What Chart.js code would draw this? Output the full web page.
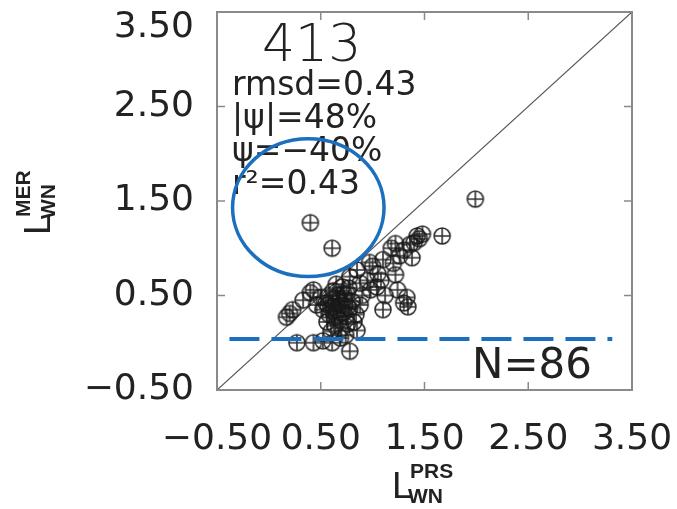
<!DOCTYPE html>
<html>
<head>
<meta charset="utf-8">
<script src="https://cdn.jsdelivr.net/npm/chart.js@4/dist/chart.umd.min.js"></script>
<style>
  html, body { margin: 0; padding: 0; background: #fff; }
  #wrap { width: 677px; height: 509px; }
</style>
</head>
<body>
<div id="wrap"><canvas id="scatterChart" width="677" height="509"></canvas></div>
<script>
// Tick values for both axes
const xTicks = [-0.5, 0.5, 1.5, 2.5, 3.5];
const yTicks = [-0.5, 0.5, 1.5, 2.5, 3.5];

// L_WN PRS (x) vs L_WN MER (y)
const prsValues = [
    1.99, 0.40, 0.61, 1.67, 1.40, 1.45, 1.48, 1.43, 1.36, 1.22,
    1.18, 1.30, 1.38, 1.10, 1.00, 0.97, 1.22, 1.05, 0.85, 0.68,
    0.78, 0.95, 0.88, 1.04, 1.24, 0.72, 1.33, 1.34, 1.30, 1.10,
    0.62, 0.76, 0.71, 0.65, 0.75, 0.43, 0.40, 0.33, 0.23, 0.17,
    0.20, 0.50, 0.55, 0.60, 0.62, 0.66, 0.70, 0.72, 0.58, 0.63,
    0.68, 0.74, 0.78, 0.80, 0.84, 0.88, 0.52, 0.46, 0.56, 0.64,
    0.70, 0.76, 0.82, 0.85, 0.60, 0.69, 0.74, 0.27, 0.43, 0.52,
    0.61, 0.78, 0.66, 0.73, 0.62, 0.90, 0.98, 1.12, 1.08, 0.57,
    0.66, 0.68, 0.77, 1.20, 1.26, 0.58
];
const merValues = [
    1.52, 1.27, 1.00, 1.13, 1.06, 1.10, 1.15, 1.13, 1.04, 1.05,
    1.00, 0.98, 0.90, 0.88, 0.81, 0.85, 0.72, 0.73, 0.77, 0.46,
    0.70, 0.66, 0.63, 0.59, 0.56, 0.52, 0.48, 0.38, 0.42, 0.35,
    0.33, 0.38, 0.59, 0.62, 0.52, 0.56, 0.53, 0.45, 0.35, 0.27,
    0.31, 0.48, 0.42, 0.45, 0.38, 0.35, 0.40, 0.32, 0.30, 0.27,
    0.24, 0.28, 0.36, 0.44, 0.30, 0.40, 0.35, 0.40, 0.22, 0.18,
    0.15, 0.20, 0.22, 0.13, 0.12, 0.05, 0.08, 0.00, 0.00, 0.02,
    0.00, -0.09, 0.50, 0.47, 0.55, 0.50, 0.56, 0.50, 0.66, 0.40,
    0.28, 0.43, 0.58, 0.84, 0.92, 0.50
];

// 1:1 line and the blue threshold line
const diagX = [-0.5, 3.5];
const diagY = [-0.5, 3.5];
const threshX = [-0.38, 3.31];
const threshY = [0.04, 0.04];

// Highlight ring (data units)
const ringCenter = [0.38, 1.43];
const ringRadius = 0.73;

const statLines = ["rmsd=0.43", "|\u03c8|=48%", "\u03c8=\u221240%", "r\u00b2=0.43"];
const panelLabel = "413";
const countLabel = "N=86";

const blue = "#1b6fbe";
const ink = "#222";

// circle with a plus inside, used as point marker
function makeMarker() {
    const c = document.createElement("canvas");
    c.width = 20; c.height = 20;
    const g = c.getContext("2d");
    g.strokeStyle = "rgba(25,25,25,0.9)";
    g.lineWidth = 1.6;
    g.beginPath();
    g.arc(10, 10, 8, 0, Math.PI * 2);
    g.moveTo(10, 2); g.lineTo(10, 18);
    g.moveTo(2, 10); g.lineTo(18, 10);
    g.stroke();
    return c;
}

function fmt(v) {
    return v.toFixed(2).replace("-", "\u2212");
}

// L with sub/superscript, drawn in local coords (baseline at 0)
function drawLTitle(ctx, sup, sub) {
    ctx.fillStyle = ink;
    ctx.textBaseline = "alphabetic";
    ctx.textAlign = "left";
    ctx.font = "37px 'Liberation Sans'";
    ctx.fillText("L", 0, 0);
    ctx.font = "bold 21px 'Liberation Sans'";
    ctx.fillText(sup, 18, -20);
    ctx.fillText(sub, 16, 5);
}

const framePlugin = {
    id: "frame",
    beforeDatasetsDraw(chart) {
        const { ctx, chartArea: a } = chart;
        ctx.save();
        // stats text
        ctx.fillStyle = ink;
        ctx.textAlign = "left";
        ctx.textBaseline = "alphabetic";
        ctx.font = "300 52px 'DejaVu Sans'";
        ctx.fillText(panelLabel, a.left + 45, a.top + 49);
        ctx.font = "33px 'DejaVu Sans'";
        statLines.forEach((t, i) => ctx.fillText(t, a.left + 15, a.top + 83 + i * 33));
        ctx.font = "42px 'DejaVu Sans'";
        ctx.fillText(countLabel, a.left + 255, a.top + 366);
        ctx.restore();
    },
    afterDraw(chart) {
        const { ctx, chartArea: a, scales } = chart;
        ctx.save();
        // frame
        ctx.strokeStyle = "#8a8a8a";
        ctx.lineWidth = 2;
        ctx.strokeRect(a.left, a.top, a.right - a.left, a.bottom - a.top);
        // inward tick marks on all four sides
        ctx.lineWidth = 1.5;
        ctx.beginPath();
        xTicks.slice(1, -1).forEach(v => {
            const px = scales.x.getPixelForValue(v);
            ctx.moveTo(px, a.bottom); ctx.lineTo(px, a.bottom - 8);
            ctx.moveTo(px, a.top); ctx.lineTo(px, a.top + 8);
        });
        yTicks.slice(1, -1).forEach(v => {
            const py = scales.y.getPixelForValue(v);
            ctx.moveTo(a.left, py); ctx.lineTo(a.left + 8, py);
            ctx.moveTo(a.right, py); ctx.lineTo(a.right - 8, py);
        });
        ctx.stroke();

        // blue ring
        const cx = scales.x.getPixelForValue(ringCenter[0]);
        const cy = scales.y.getPixelForValue(ringCenter[1]);
        const rx = scales.x.getPixelForValue(ringCenter[0] + ringRadius) - cx;
        const ry = cy - scales.y.getPixelForValue(ringCenter[1] + ringRadius);
        ctx.strokeStyle = blue;
        ctx.lineWidth = 3.5;
        ctx.beginPath();
        ctx.ellipse(cx, cy, rx, ry, 0, 0, Math.PI * 2);
        ctx.stroke();

        // axis titles
        ctx.save();
        ctx.translate(a.left + 175, a.bottom + 108);
        drawLTitle(ctx, "PRS", "WN");
        ctx.restore();
        ctx.save();
        ctx.translate(50, (a.top + a.bottom) / 2 + 34);
        ctx.rotate(-Math.PI / 2);
        drawLTitle(ctx, "MER", "WN");
        ctx.restore();
        ctx.restore();
    }
};

const points = prsValues.map((x, i) => ({ x: x, y: merValues[i] }));

new Chart(document.getElementById("scatterChart"), {
    type: "scatter",
    data: {
        datasets: [
            {
                data: threshX.map((x, i) => ({ x: x, y: threshY[i] })),
                showLine: true,
                borderColor: blue,
                borderWidth: 4,
                borderDash: [30, 12],
                pointRadius: 0,
                order: 0
            },
            {
                data: points,
                pointStyle: makeMarker(),
                order: 1
            },
            {
                data: diagX.map((x, i) => ({ x: x, y: diagY[i] })),
                showLine: true,
                borderColor: "#555",
                borderWidth: 1.2,
                pointRadius: 0,
                order: 2
            }
        ]
    },
    plugins: [framePlugin],
    options: {
        responsive: false,
        animation: false,
        layout: { padding: { left: 0, top: 12, right: 45, bottom: 0 } },
        plugins: { legend: { display: false }, tooltip: { enabled: false } },
        scales: {
            x: {
                min: -0.5, max: 3.5,
                afterBuildTicks: s => { s.ticks = xTicks.map(v => ({ value: v })); },
                afterFit: s => { s.height = 119; s.paddingLeft = 0; s.paddingRight = 0; },
                grid: { display: false },
                border: { display: false },
                ticks: {
                    autoSkip: false, maxRotation: 0, padding: 20,
                    color: ink,
                    font: { family: "'DejaVu Sans'", size: 36 },
                    callback: v => fmt(v)
                }
            },
            y: {
                min: -0.5, max: 3.5,
                afterBuildTicks: s => { s.ticks = yTicks.map(v => ({ value: v })); },
                afterFit: s => { s.width = 217; s.paddingTop = 0; s.paddingBottom = 0; },
                grid: { display: false },
                border: { display: false },
                ticks: {
                    autoSkip: false, padding: 15,
                    color: ink,
                    font: { family: "'DejaVu Sans'", size: 36, lineHeight: 0.85 },
                    // top label sits below its tick, as in the original
                    callback: v => v === 3.5 ? ["", fmt(v)] : fmt(v)
                }
            }
        }
    }
});
</script>
</body>
</html>
